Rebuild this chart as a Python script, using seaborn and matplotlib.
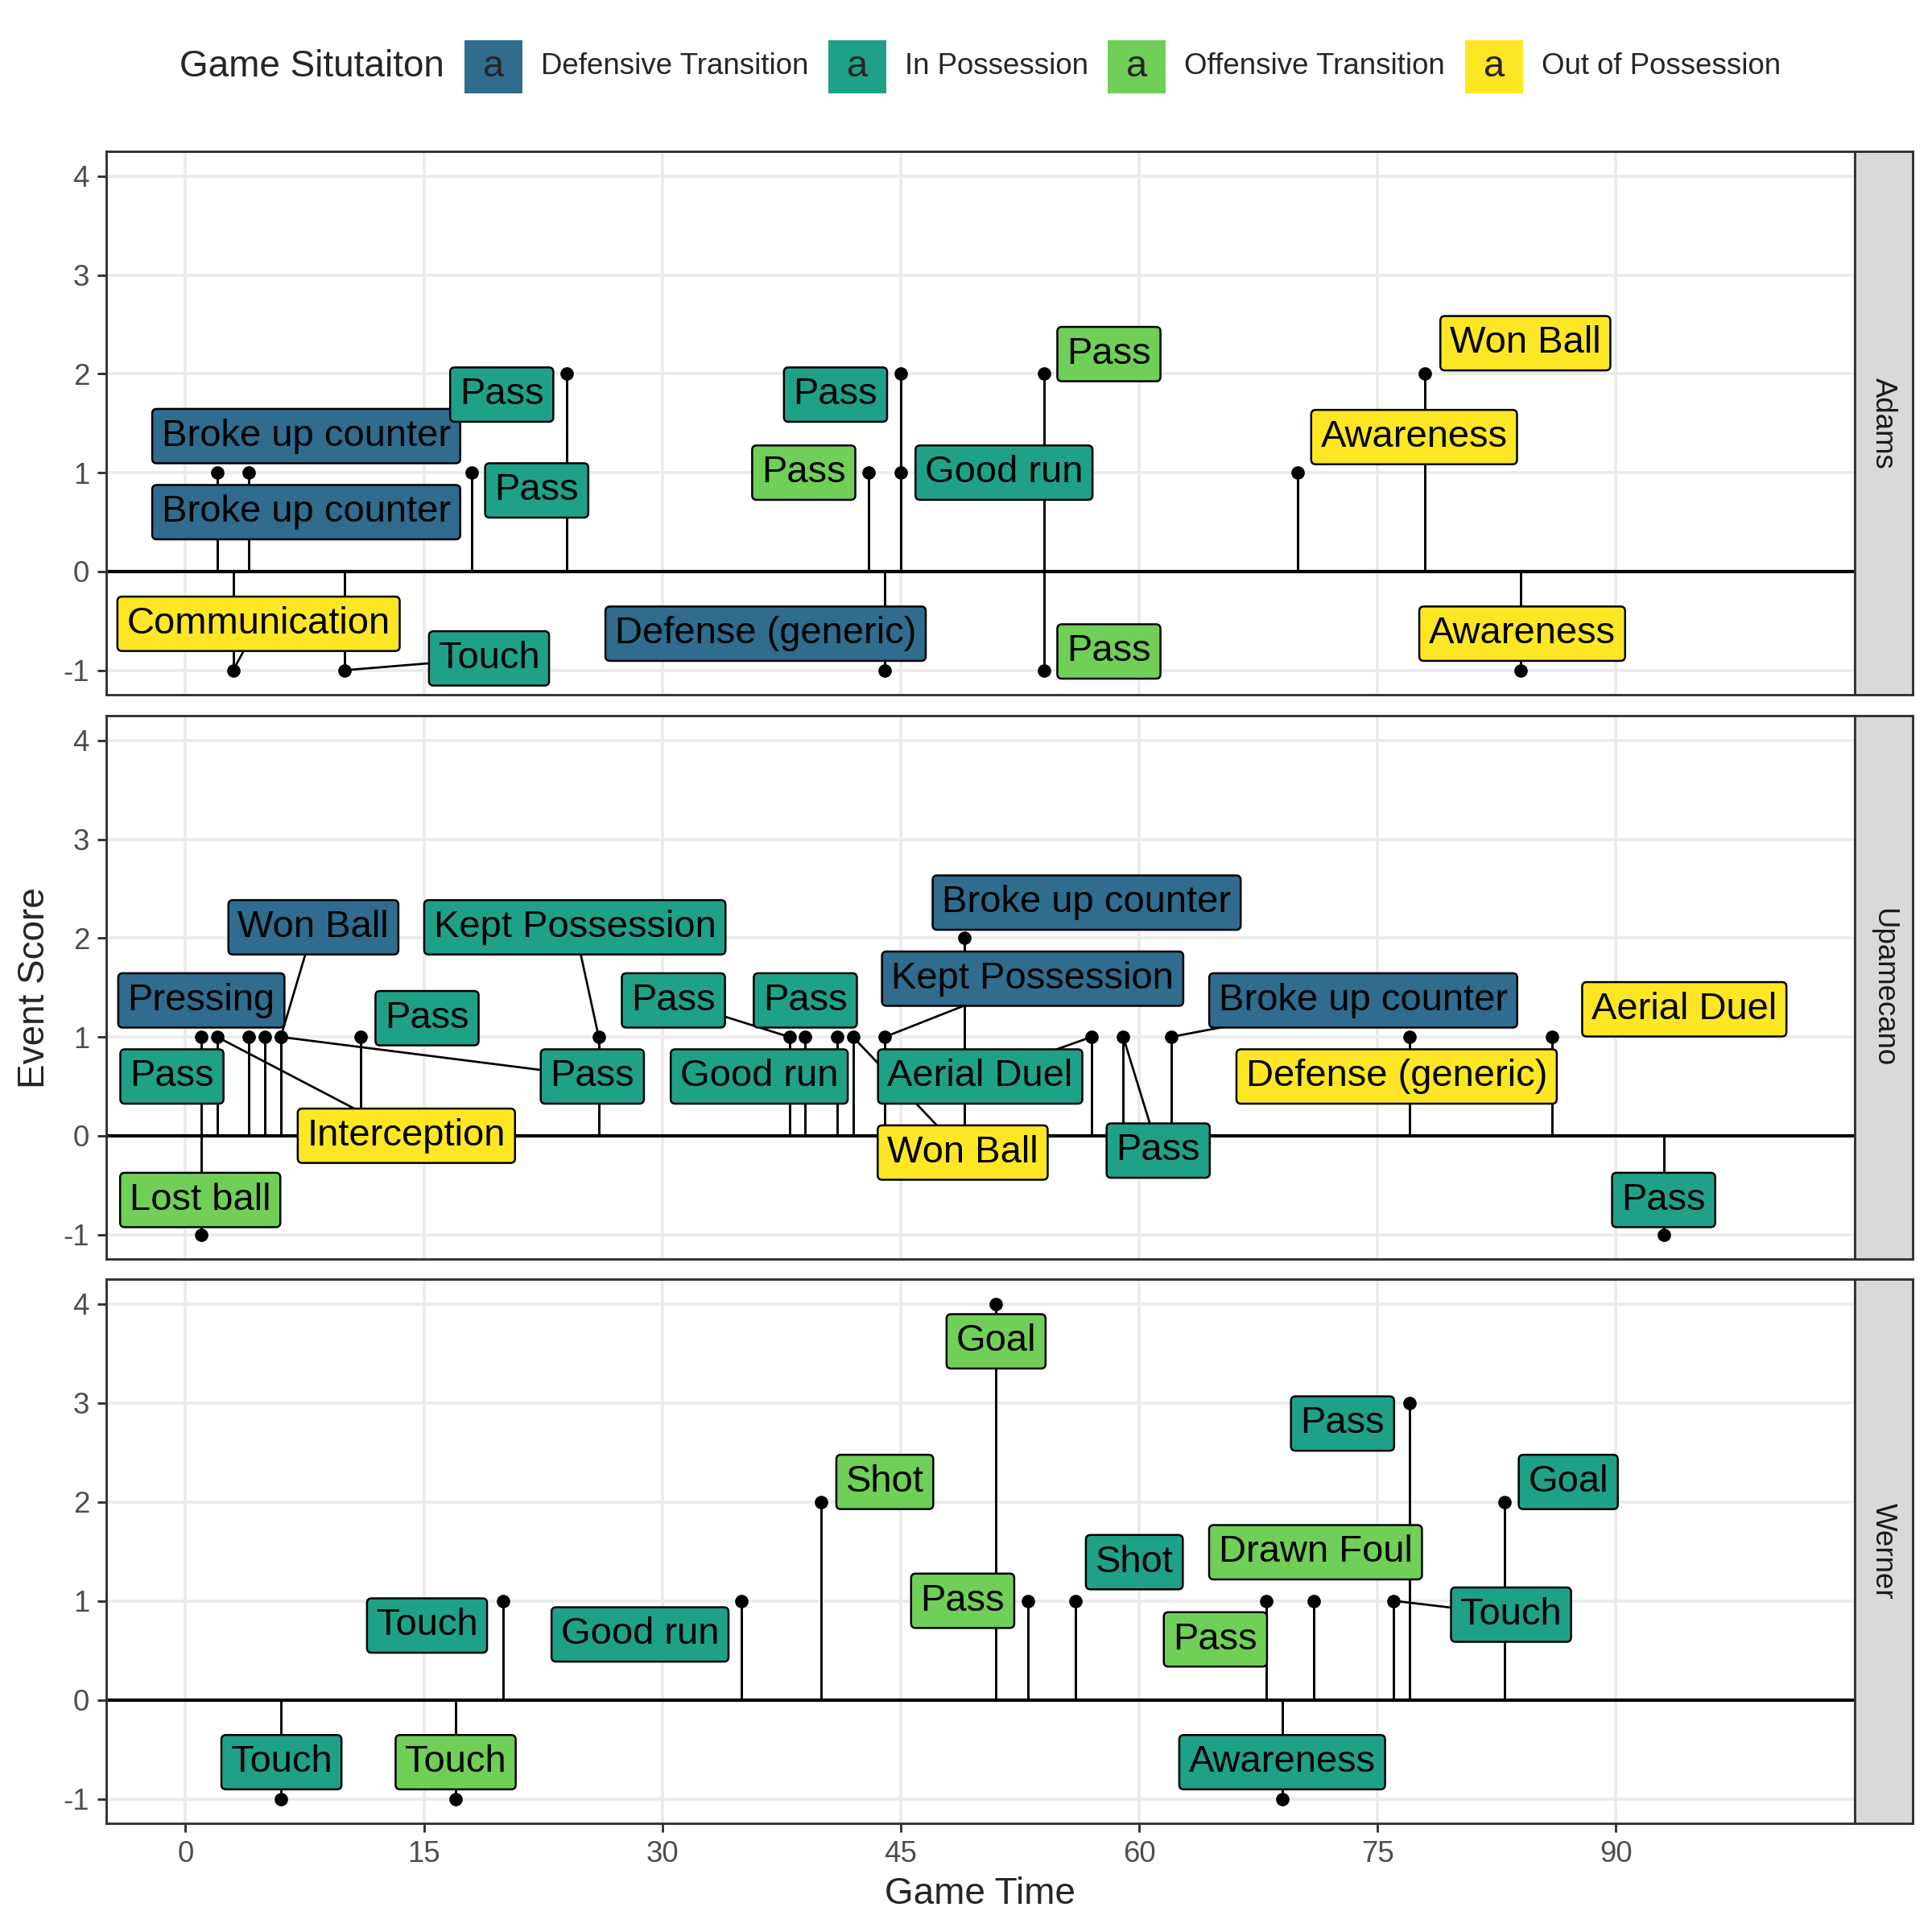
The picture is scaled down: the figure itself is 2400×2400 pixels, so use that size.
import numpy as np
import pandas as pd
import matplotlib
matplotlib.use("Agg")
import matplotlib.pyplot as plt
import seaborn as sns
from matplotlib.patches import Rectangle

situations = ["Defensive Transition", "In Possession", "Offensive Transition", "Out of Possession"]
DT, IP, OT, OP = situations
players = ["Adams", "Upamecano", "Werner"]

# Adams
adams_time = [2, 4, 3, 10, 18, 24, 43, 45, 45, 44, 54, 54, 70, 78, 84]
adams_score = [1, 1, -1, -1, 1, 2, 1, 2, 1, -1, 2, -1, 1, 2, -1]
adams_event = ["Broke up counter", "Broke up counter", "Communication", "Touch", "Pass", "Pass",
               "Pass", "Pass", "Good run", "Defense (generic)", "Pass", "Pass",
               "Awareness", "Won Ball", "Awareness"]
adams_situation = [DT, DT, OP, IP, IP, IP, OT, IP, IP, DT, OT, OT, OP, OP, OP]

# Upamecano
upa_time = [1, 1, 2, 4, 5, 6, 6, 11, 26, 38, 39, 41, 42, 44, 49, 57, 59, 62, 77, 86, 93]
upa_score = [1, -1, 1, 1, 1, 1, 1, 1, 1, 1, 1, 1, 1, 1, 2, 1, 1, 1, 1, 1, -1]
upa_event = ["Pass", "Lost ball", "Interception", "Pressing", "Pass", "Won Ball", "Pass", "Pass",
             "Kept Possession", "Pass", "Good run", "Pass", "Won Ball", "Kept Possession",
             "Broke up counter", "Aerial Duel", "Pass", "Broke up counter", "Defense (generic)",
             "Aerial Duel", "Pass"]
upa_situation = [IP, OT, OP, DT, IP, DT, IP, IP, IP, IP, IP, IP, OP, DT, DT, IP, IP, DT, OP, OP, IP]

# Werner
werner_time = [6, 17, 20, 35, 40, 51, 53, 56, 68, 71, 76, 77, 83, 69]
werner_score = [-1, -1, 1, 1, 2, 4, 1, 1, 1, 1, 1, 3, 2, -1]
werner_event = ["Touch", "Touch", "Touch", "Good run", "Shot", "Goal", "Pass", "Shot", "Pass",
                "Drawn Foul", "Touch", "Pass", "Goal", "Awareness"]
werner_situation = [IP, OT, IP, IP, OT, OT, OT, IP, OT, OT, IP, IP, IP, IP]

# where the repelled labels ended up (data units), nan = label dropped
adams_lab_x = [7.6, 7.6, 4.6, 19.1, 22.1, 19.9, 38.9, 40.9, 51.5, 36.5, 58.1, 58.1, 77.3, 84.3, 84.1]
adams_lab_y = [0.60, 1.37, -0.53, -0.88, 0.82, 1.79, 1.0, 1.79, 1.0, -0.63, 2.2, -0.81, 1.36, 2.31, -0.63]
adams_seg = [0, 0, 1, 1, 0, 0, 0, 0, 0, 0, 0, 0, 0, 0, 0]

upa_lab_x = [-0.85, 0.93, 13.9, 1.0, np.nan, 8.05, 25.6, 15.2, 24.5, 30.7, 36.1, 39.0, 48.9,
             53.3, 56.7, 50.0, 61.2, 74.1, 76.2, 94.3, 93.0]
upa_lab_y = [0.60, -0.65, 0.0, 1.37, np.nan, 2.11, 0.60, 1.19, 2.11, 1.37, 0.60, 1.37, -0.17,
             1.59, 2.36, 0.60, -0.15, 1.37, 0.60, 1.28, -0.65]
upa_seg = [0, 0, 1, 0, 0, 1, 1, 0, 1, 1, 0, 0, 1, 1, 0, 1, 1, 1, 0, 0, 0]

werner_lab_x = [6.04, 17.0, 15.2, 28.6, 44.0, 51.0, 48.9, 59.7, 64.8, 71.1, 83.4, 72.8, 87.0, 69.0]
werner_lab_y = [-0.63, -0.63, 0.75, 0.66, 2.2, 3.62, 1.0, 1.39, 0.61, 1.49, 0.86, 2.79, 2.2, -0.63]
werner_seg = [0, 0, 0, 0, 0, 0, 0, 0, 0, 0, 1, 0, 0, 0]

frames = []
for p, t, s, e, g, lx, ly, sg in [
    ("Adams", adams_time, adams_score, adams_event, adams_situation, adams_lab_x, adams_lab_y, adams_seg),
    ("Upamecano", upa_time, upa_score, upa_event, upa_situation, upa_lab_x, upa_lab_y, upa_seg),
    ("Werner", werner_time, werner_score, werner_event, werner_situation, werner_lab_x, werner_lab_y, werner_seg),
]:
    frames.append(pd.DataFrame({"player": p, "time": t, "score": s, "event": e, "situation": g,
                                "lab_x": lx, "lab_y": ly, "seg": sg}))
df = pd.concat(frames, ignore_index=True)

colors = dict(zip(situations, plt.cm.viridis(np.linspace(0.35, 1, 4))))

sns.set_style("white")
plt.rcParams["font.family"] = ["Liberation Sans", "DejaVu Sans"]
plt.rcParams["axes.unicode_minus"] = False

fig = plt.figure(figsize=(8, 8), dpi=300)

# panel layout (in 1568px reference units)
H = 1568
left, right, strip_r = 86 / H, 1505 / H, 1552 / H
tops = [123, 581, 1038]
bottoms = [564, 1022, 1480]

for i, player in enumerate(players):
    b = 1 - bottoms[i] / H
    h = (bottoms[i] - tops[i]) / H
    ax = fig.add_axes([left, b, right - left, h])
    sub = df[df.player == player]

    ax.set_xlim(-5, 105)
    ax.set_ylim(-1.25, 4.25)
    ax.set_xticks(range(0, 91, 15))
    ax.set_yticks(range(-1, 5))
    ax.grid(True, color="#EBEBEB", lw=0.9)
    ax.set_axisbelow(True)

    ax.axhline(0, color="black", lw=1.0, zorder=2)
    ax.vlines(sub.time, 0, sub.score, color="black", lw=0.7, zorder=2)
    sns.scatterplot(data=sub, x="time", y="score", color="black", s=16, linewidth=0,
                    ax=ax, zorder=4, legend=False)

    for row in sub.itertuples():
        if np.isnan(row.lab_x):
            continue
        if row.seg:
            ax.plot([row.time, row.lab_x], [row.score, row.lab_y], color="black", lw=0.65, zorder=3)
        ax.text(row.lab_x, row.lab_y, row.event, ha="center", va="center", fontsize=11.3,
                color="black", zorder=5,
                bbox=dict(boxstyle="round,pad=0.25,rounding_size=0.12",
                          fc=colors[row.situation], ec="black", lw=0.6))

    ax.set_xlabel("")
    ax.set_ylabel("")
    for sp in ax.spines.values():
        sp.set_color("#333333")
        sp.set_linewidth(0.7)
    ax.tick_params(axis="both", length=2.75, width=0.7, color="#333333",
                   labelsize=8.8, labelcolor="#4D4D4D", pad=2.2, left=True, bottom=True)
    if i < 2:
        ax.tick_params(axis="x", bottom=False, labelbottom=False)

    sax = fig.add_axes([right, b, strip_r - right, h])
    sax.set_facecolor("#D9D9D9")
    sax.set_xticks([])
    sax.set_yticks([])
    for sp in sax.spines.values():
        sp.set_color("#333333")
        sp.set_linewidth(0.7)
    sax.text(0.5, 0.5, player, rotation=-90, ha="center", va="center", fontsize=8.8,
             color="#1A1A1A", transform=sax.transAxes)

fig.text(28 / H, 1 - 801.5 / H, "Event Score", rotation=90, ha="center", va="center", fontsize=11)
fig.text(795.5 / H, 1 - 1537 / H, "Game Time", ha="center", va="center", fontsize=11)

# legend on top
pt = 1 / 576
leg_y = 1 - 54 / H
key_w, key_h = 17.3 * pt, 15.8 * pt
renderer = fig.canvas.get_renderer()
title = fig.text(0, leg_y, "Game Situtaiton", fontsize=11, ha="left", va="center")
texts = [fig.text(0, leg_y, s, fontsize=8.8, ha="left", va="center") for s in situations]


def width(t):
    return t.get_window_extent(renderer).width / fig.bbox.width


total = width(title) + 5.9 * pt + sum(key_w + 5.5 * pt + width(t) for t in texts) + 3 * 5.9 * pt
x = 795.5 / H - total / 2
title.set_x(x)
x += width(title) + 5.9 * pt
for s, t in zip(situations, texts):
    fig.add_artist(Rectangle((x, leg_y - key_h / 2), key_w, key_h, transform=fig.transFigure,
                             facecolor=colors[s], edgecolor="none"))
    fig.text(x + key_w / 2, leg_y, "a", fontsize=11.3, ha="center", va="center")
    x += key_w + 5.5 * pt
    t.set_x(x)
    x += width(t) + 5.9 * pt

fig.savefig("out.png", dpi=300)
